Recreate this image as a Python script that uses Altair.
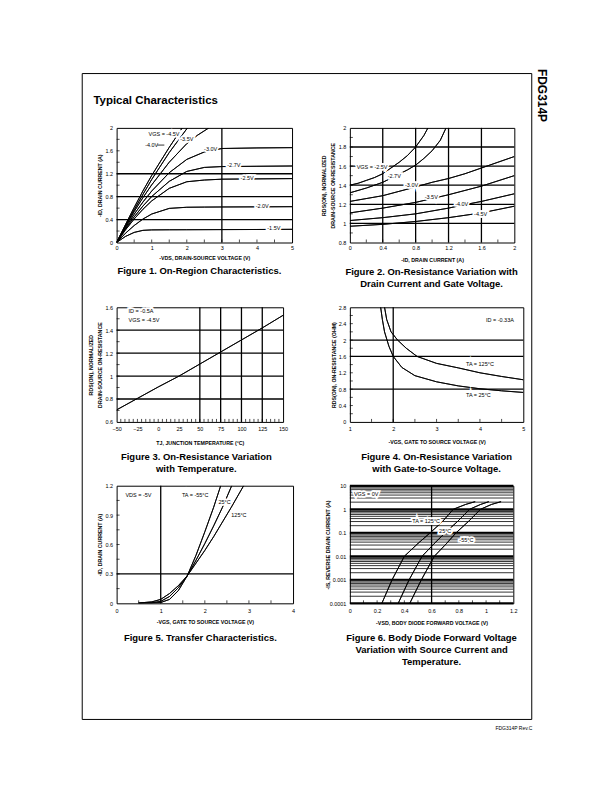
import altair as alt
import pandas as pd

FONT = "Liberation Sans"
CURVE_W = 0.9
GRID_W = 1.3
LAB_FS = 5.5

# ================= Figure 1 : On-region characteristics =================
f1_names = ["-1.5V", "-2.0V", "-2.5V", "-2.7V", "-3.0V", "-3.5V", "-4.0V", "-4.5V"]
f1_vds = [
    [0, 0.25, 0.5, 0.75, 1, 1.5, 2, 3, 4, 5],
    [0, 0.25, 0.5, 0.75, 1, 1.5, 2, 2.5, 3, 4, 5],
    [0, 0.25, 0.5, 0.75, 1, 1.5, 2, 2.5, 3, 4, 5],
    [0, 0.25, 0.5, 0.75, 1, 1.5, 2, 2.5, 3, 4, 5],
    [0, 0.25, 0.5, 0.75, 1, 1.5, 2, 2.5, 3, 4, 5],
    [0, 0.25, 0.5, 0.75, 1, 1.5, 2, 2.3, 2.63],
    [0, 0.25, 0.5, 0.75, 1, 1.5, 2.02],
    [0, 0.25, 0.5, 0.75, 1, 1.5, 1.87],
]
f1_id = [
    [0, 0.105, 0.176, 0.212, 0.220, 0.222, 0.223, 0.225, 0.227, 0.230],
    [0, 0.160, 0.296, 0.409, 0.497, 0.595, 0.615, 0.618, 0.620, 0.622, 0.625],
    [0, 0.218, 0.410, 0.580, 0.726, 0.945, 1.060, 1.090, 1.105, 1.110, 1.115],
    [0, 0.236, 0.447, 0.636, 0.802, 1.067, 1.240, 1.310, 1.325, 1.330, 1.335],
    [0, 0.257, 0.493, 0.706, 0.898, 1.218, 1.450, 1.580, 1.640, 1.650, 1.655],
    [0, 0.278, 0.539, 0.782, 1.006, 1.401, 1.725, 1.870, 2.0],
    [0, 0.290, 0.570, 0.840, 1.100, 1.570, 2.0],
    [0, 0.310, 0.610, 0.900, 1.170, 1.660, 2.0],
]
f1_lab_text = ["VGS = -4.5V", "-4.0V", "-3.5V", "-3.0V", "-2.7V", "-2.5V", "-2.0V", "-1.5V"]
f1_lab_x = [1.35, 1.0, 2.0, 2.68, 3.34, 3.72, 4.15, 4.48]
f1_lab_y = [1.89, 1.70, 1.80, 1.63, 1.35, 1.13, 0.63, 0.25]
f1_grid_x = [3]
f1_grid_y = [0.4, 0.8, 1.2]
f1_tick_x = [0.5, 1, 1.5, 2, 2.5, 3, 3.5, 4, 4.5]
f1_tick_y = [0.2, 0.4, 0.6, 0.8, 1.0, 1.2, 1.4, 1.6, 1.8]

# ================= Figure 2 : Rds(on) vs drain current =================
f2_names = ["-2.5V", "-2.7V", "-3.0V", "-3.5V", "-4.0V", "-4.5V"]
f2_id = [
    [0, 0.1, 0.2, 0.3, 0.4, 0.5, 0.6, 0.7, 0.8, 0.9, 0.95],
    [0, 0.2, 0.4, 0.54, 0.7, 0.8, 0.9, 1.0, 1.1, 1.17],
    [0, 0.4, 0.75, 1.0, 1.2, 1.4, 1.6, 1.8, 2.0],
    [0, 0.4, 0.8, 1.0, 1.2, 1.6, 2.0],
    [0, 0.4, 0.8, 1.2, 1.36, 1.6, 2.0],
    [0, 0.4, 0.8, 1.2, 1.6, 2.0],
]
f2_r = [
    [1.40, 1.42, 1.45, 1.48, 1.52, 1.58, 1.64, 1.71, 1.80, 1.92, 2.0],
    [1.32, 1.37, 1.43, 1.49, 1.56, 1.61, 1.68, 1.76, 1.87, 2.0],
    [1.23, 1.29, 1.37, 1.43, 1.47, 1.52, 1.58, 1.64, 1.70],
    [1.11, 1.16, 1.22, 1.26, 1.30, 1.39, 1.50],
    [1.03, 1.06, 1.10, 1.16, 1.19, 1.23, 1.31],
    [0.97, 0.99, 1.02, 1.06, 1.11, 1.18],
]
f2_lab_text = ["VGS = -2.5V", "-2.7V", "-3.0V", "-3.5V", "-4.0V", "-4.5V"]
f2_lab_x = [0.27, 0.54, 0.75, 0.99, 1.36, 1.59]
f2_lab_y = [1.59, 1.50, 1.40, 1.275, 1.20, 1.10]
f2_grid_x = [0.4, 0.8, 1.2, 1.6]
f2_grid_y = [1.0, 1.2, 1.4, 1.6, 1.8]
f2_tick_x = [0.2, 0.4, 0.6, 0.8, 1.0, 1.2, 1.4, 1.6, 1.8]
f2_tick_y = [0.9, 1.0, 1.1, 1.2, 1.3, 1.4, 1.5, 1.6, 1.7, 1.8, 1.9]

# ================= Figure 3 : Rds(on) vs temperature =================
f3_tj = [-50, -25, 0, 25, 50, 75, 100, 125, 150]
f3_r = [0.705, 0.805, 0.905, 1.0, 1.105, 1.21, 1.315, 1.42, 1.53]
f3_lab_text = ["ID = -0.5A", "VGS = -4.5V"]
f3_lab_x = [-35.6, -35.6]
f3_lab_y = [1.565, 1.49]
f3_grid_x = [50, 75, 100, 125]
f3_grid_y = [0.8, 1.0, 1.2, 1.4]
f3_tick_x = list(range(-45, 150, 5))
f3_tick_y = [0.7, 0.8, 0.9, 1.0, 1.1, 1.2, 1.3, 1.4, 1.5]

# ================= Figure 4 : Rds(on) vs gate voltage =================
f4_names = ["25C", "125C"]
f4_vgs = [
    [1.71, 1.75, 1.8, 1.9, 2.0, 2.2, 2.5, 3.0, 3.5, 4.0, 4.5, 5.0],
    [1.80, 1.85, 1.95, 2.1, 2.3, 2.55, 3.0, 3.5, 4.0, 4.5, 5.0],
]
f4_r = [
    [2.8, 2.5, 2.2, 1.85, 1.6, 1.33, 1.13, 0.98, 0.88, 0.81, 0.76, 0.72],
    [2.8, 2.5, 2.2, 2.0, 1.8, 1.6, 1.43, 1.32, 1.20, 1.11, 1.03],
]
f4_lab_text = ["ID = -0.33A", "TA = 125°C", "TA = 25°C"]
f4_lab_x = [4.14, 3.68, 3.68]
f4_lab_y = [2.48, 1.42, 0.66]
f4_grid_x = [2]
f4_grid_y = [0.8, 1.6, 2.0]
f4_tick_x = [1.5, 2, 2.5, 3, 3.5, 4, 4.5]
f4_tick_y = [0.2, 0.4, 0.6, 0.8, 1.0, 1.2, 1.4, 1.6, 1.8, 2.0, 2.2, 2.4, 2.6]

# ================= Figure 5 : Transfer characteristics =================
f5_names = ["-55C", "25C", "125C"]
f5_vgs = [
    [0.5, 0.8, 1.0, 1.2, 1.4, 1.6, 1.8, 2.0, 2.2, 2.36],
    [0.5, 0.8, 1.0, 1.2, 1.4, 1.6, 1.8, 2.0, 2.2, 2.4, 2.61],
    [0.5, 0.8, 1.0, 1.2, 1.4, 1.6, 1.8, 2.0, 2.2, 2.4, 2.6, 2.88],
]
f5_id = [
    [0.0, 0.002, 0.008, 0.04, 0.13, 0.28, 0.49, 0.73, 0.98, 1.2],
    [0.001, 0.006, 0.02, 0.07, 0.16, 0.28, 0.44, 0.61, 0.79, 0.98, 1.2],
    [0.003, 0.015, 0.04, 0.10, 0.18, 0.28, 0.41, 0.54, 0.68, 0.83, 0.98, 1.2],
]
f5_lab_text = ["VDS = -5V", "TA = -55°C", "25°C", "125°C"]
f5_lab_x = [0.2, 1.48, 2.31, 2.6]
f5_lab_y = [1.11, 1.11, 1.03, 0.90]
f5_grid_x = [1]
f5_grid_y = [0.3]
f5_tick_x = [0.5, 1, 1.5, 2, 2.5, 3, 3.5]
f5_tick_y = [0.15, 0.3, 0.45, 0.6, 0.75, 0.9, 1.05]

# ================= Figure 6 : Body diode forward voltage =================
f6_names = ["125C", "25C", "-55C"]
f6_vsd = [
    [0.235, 0.31, 0.40, 0.50, 0.59, 0.68, 0.76, 0.85, 0.92],
    [0.355, 0.435, 0.53, 0.62, 0.70, 0.79, 0.88, 0.96, 1.02],
    [0.44, 0.525, 0.62, 0.71, 0.78, 0.87, 0.96, 1.04, 1.11],
]
f6_is = [
    [1e-4, 1e-3, 1e-2, 0.035, 0.1, 0.3, 1.0, 1.6, 2.1],
    [1e-4, 1e-3, 1e-2, 0.035, 0.1, 0.3, 1.0, 1.6, 2.1],
    [1e-4, 1e-3, 1e-2, 0.035, 0.1, 0.3, 1.0, 1.6, 2.1],
]
f6_lab_text = ["VGS = 0V", "TA = 125°C", "25°C", "-55°C"]
f6_lab_x = [0.03, 0.56, 0.70, 0.855]
f6_lab_y = [4.3, 0.32, 0.113, 0.049]
f6_grid_x = [0.6]
f6_decades = [0.0001, 0.001, 0.01, 0.1, 1, 10]
f6_minor = [m * d for d in [0.0001, 0.001, 0.01, 0.1, 1] for m in range(2, 10)]
f6_tick_x = [0.1, 0.2, 0.3, 0.4, 0.5, 0.6, 0.7, 0.8, 0.9, 1.0, 1.1]

DUMMY = pd.DataFrame({"a": [0]})


def curves_df(names, xs, ys):
    rows = []
    for n, xl, yl in zip(names, xs, ys):
        for i, (a, b) in enumerate(zip(xl, yl)):
            rows.append({"s": n, "x": a, "y": b, "i": i})
    return pd.DataFrame(rows)


def labels_df(texts, xs, ys):
    return pd.DataFrame({"t": texts, "x": xs, "y": ys})


def ptext(text, x, y, size, weight="normal", align="center", angle=0, lh=None):
    kw = dict(text=text, font=FONT, fontSize=size, fontWeight=weight, align=align,
              baseline="middle", color="black", angle=angle)
    if lh is not None:
        kw["lineHeight"] = lh
    return alt.Chart(DUMMY).mark_text(**kw).encode(x=alt.value(x), y=alt.value(y))


def xaxis(values, fmt, title, w, title_y, pad):
    return alt.Axis(values=values, format=fmt, title=title, titleX=w / 2, titleY=title_y,
                    titleBaseline="middle", titleAlign="center", labelPadding=pad)


def yaxis(values, fmt, title, h, title_x, pad=4):
    return alt.Axis(values=values, format=fmt, title=title, titleX=title_x, titleY=h / 2,
                    titleAngle=-90, titleBaseline="middle", titleAlign="center",
                    labelPadding=pad)


def panel(w, h, xs, ys, xax, yax, cdf, gx, gy, tx, ty, lab_center=None, lab_left=None,
          pre=(), extras=(), gy_thick=None, gy_w=GRID_W):
    def X(f="x:Q"):
        return alt.X(f, scale=xs, axis=xax)

    def Y(f="y:Q"):
        return alt.Y(f, scale=ys, axis=yax)

    layers = [alt.Chart(cdf).mark_line(color="black", strokeWidth=CURVE_W, clip=True).encode(
        x=X(), y=Y(), detail="s:N", order="i:Q")]
    layers += list(pre)
    if gx:
        layers.append(alt.Chart(pd.DataFrame({"x": gx})).mark_rule(color="black", strokeWidth=GRID_W)
                      .encode(x=X()))
    if gy:
        layers.append(alt.Chart(pd.DataFrame({"y": gy})).mark_rule(color="black", strokeWidth=gy_w)
                      .encode(y=Y()))
    if gy_thick:
        layers.append(alt.Chart(pd.DataFrame({"y": gy_thick})).mark_rule(color="black", strokeWidth=2.0)
                      .encode(y=Y()))
    # curves drawn again on top of the grid
    layers.append(alt.Chart(cdf).mark_line(color="black", strokeWidth=CURVE_W, clip=True).encode(
        x=X(), y=Y(), detail="s:N", order="i:Q"))
    if tx:
        layers.append(alt.Chart(pd.DataFrame({"x": tx})).mark_rule(color="black", strokeWidth=0.7)
                      .encode(x=X(), y=alt.value(h), y2=alt.value(h - 3)))
    if ty:
        layers.append(alt.Chart(pd.DataFrame({"y": ty})).mark_rule(color="black", strokeWidth=0.7)
                      .encode(y=Y(), x=alt.value(0), x2=alt.value(3)))
    for df, al in ((lab_center, "center"), (lab_left, "left")):
        if df is None:
            continue
        base = alt.Chart(df).encode(x=X(), y=Y(), text="t:N")
        layers.append(base.mark_text(font=FONT, fontSize=LAB_FS, align=al, baseline="middle",
                                     color="white", stroke="white", strokeWidth=3.5))
        layers.append(base.mark_text(font=FONT, fontSize=LAB_FS, align=al, baseline="middle",
                                     color="black"))
    layers += list(extras)
    return alt.layer(*layers).properties(width=w, height=h,
                                         view=alt.ViewBackground(stroke="black", strokeWidth=1))


def spacer(w, h):
    return alt.Chart(DUMMY).mark_point(opacity=0).encode(
        x=alt.value(0), y=alt.value(0)).properties(
        width=w, height=h, view=alt.ViewBackground(stroke="transparent"))


# ---------- Figure 1 panel (origin at page 116,126.5) ----------
W1, H1 = 176, 115
xs1 = alt.Scale(domain=[0, 5], nice=False, zero=False)
ys1 = alt.Scale(domain=[0, 2], nice=False, zero=False)
xax1 = xaxis([0, 1, 2, 3, 4, 5], "d", "-VDS, DRAIN-SOURCE VOLTAGE (V)", W1, 15, 3.5)
yax1 = yaxis([0, 0.4, 0.8, 1.2, 1.6, 2], "~g", "-ID, DRAIN CURRENT (A)", H1, -17)
page_anchor = alt.Chart(DUMMY).mark_rect(fill="white", opacity=0).encode(
    x=alt.value(-116), x2=alt.value(496), y=alt.value(-126.5), y2=alt.value(665.5))
frame = alt.Chart(DUMMY).mark_rect(fill="transparent", stroke="black", strokeWidth=1).encode(
    x=alt.value(-34.5), x2=alt.value(416.5), y=alt.value(-54.5), y2=alt.value(593.5))
f1_leader = alt.Chart(pd.DataFrame({"x": [1.16], "x2": [1.36], "y": [1.70]})).mark_rule(
    color="black", strokeWidth=0.8).encode(
    x=alt.X("x:Q", scale=xs1, axis=xax1), x2="x2:Q", y=alt.Y("y:Q", scale=ys1, axis=yax1))
fig1 = panel(
    W1, H1, xs1, ys1, xax1, yax1,
    curves_df(f1_names, f1_vds, f1_id), f1_grid_x, f1_grid_y, f1_tick_x, f1_tick_y,
    lab_center=labels_df(f1_lab_text, f1_lab_x, f1_lab_y),
    pre=[page_anchor, frame],
    extras=[f1_leader,
            ptext("Typical Characteristics", -23.3, -26.5, 11.5, "bold", "left"),
            ptext("Figure 1. On-Region Characteristics.", 83, 143.5, 9.5, "bold")])

# ---------- Figure 2 panel (origin 349,126.5) ----------
W2, H2 = 165, 115
xs2 = alt.Scale(domain=[0, 2], nice=False, zero=False)
ys2 = alt.Scale(domain=[0.8, 2], nice=False, zero=False)
fig2 = panel(
    W2, H2, xs2, ys2,
    xaxis([0, 0.4, 0.8, 1.2, 1.6, 2], "~g", "-ID, DRAIN CURRENT (A)", W2, 17, 3.5),
    yaxis([0.8, 1, 1.2, 1.4, 1.6, 1.8, 2], "~g",
          ["RDS(ON), NORMALIZED", "DRAIN-SOURCE ON-RESISTANCE"], H2, -26),
    curves_df(f2_names, f2_id, f2_r), f2_grid_x, f2_grid_y, f2_tick_x, f2_tick_y,
    lab_center=labels_df(f2_lab_text, f2_lab_x, f2_lab_y),
    extras=[ptext(["Figure 2. On-Resistance Variation with", "Drain Current and Gate Voltage."],
                  82, 144.5, 9.5, "bold", lh=12),
            ptext("FDG314P", 193, -32.5, 12, "bold", angle=90)])

# ---------- Figure 3 panel (origin 123,306) ----------
W3, H3 = 167, 115
xs3 = alt.Scale(domain=[-50, 150], nice=False, zero=False)
ys3 = alt.Scale(domain=[0.6, 1.6], nice=False, zero=False)
fig3 = panel(
    W3, H3, xs3, ys3,
    xaxis(list(range(-50, 151, 25)), "d", "TJ, JUNCTION TEMPERATURE (°C)", W3, 20.5, 5),
    yaxis([0.6, 0.8, 1, 1.2, 1.4, 1.6], "~g",
          ["RDS(ON), NORMALIZED", "DRAIN-SOURCE ON-RESISTANCE"], H3, -26),
    curves_df(["r"], [f3_tj], [f3_r]), f3_grid_x, f3_grid_y, f3_tick_x, f3_tick_y,
    lab_left=labels_df(f3_lab_text, f3_lab_x, f3_lab_y),
    extras=[ptext(["Figure 3. On-Resistance Variation", "with Temperature."],
                  80, 150, 9.5, "bold", lh=12)])

# ---------- Figure 4 panel (origin 340,306) ----------
W4, H4 = 174, 115
xs4 = alt.Scale(domain=[1, 5], nice=False, zero=False)
ys4 = alt.Scale(domain=[0, 2.8], nice=False, zero=False)
fig4 = panel(
    W4, H4, xs4, ys4,
    xaxis([1, 2, 3, 4, 5], "d", "-VGS, GATE TO SOURCE VOLTAGE (V)", W4, 20, 5),
    yaxis([0, 0.4, 0.8, 1.2, 1.6, 2, 2.4, 2.8], "~g", "RDS(ON), ON-RESISTANCE (OHM)", H4, -16),
    curves_df(f4_names, f4_vgs, f4_r), f4_grid_x, f4_grid_y, f4_tick_x, f4_tick_y,
    lab_left=labels_df(f4_lab_text, f4_lab_x, f4_lab_y),
    extras=[ptext(["Figure 4. On-Resistance Variation", "with Gate-to-Source Voltage."],
                  87, 150, 9.5, "bold", lh=12)])

# ---------- Figure 5 panel (origin 116,485) ----------
W5, H5 = 177, 118
xs5 = alt.Scale(domain=[0, 4], nice=False, zero=False)
ys5 = alt.Scale(domain=[0, 1.2], nice=False, zero=False)
fig5 = panel(
    W5, H5, xs5, ys5,
    xaxis([0, 1, 2, 3, 4], "d", "-VGS, GATE TO SOURCE VOLTAGE (V)", W5, 18, 5),
    yaxis([0, 0.3, 0.6, 0.9, 1.2], "~g", "-ID, DRAIN CURRENT (A)", H5, -17),
    curves_df(f5_names, f5_vgs, f5_id), f5_grid_x, f5_grid_y, f5_tick_x, f5_tick_y,
    lab_left=labels_df(f5_lab_text, f5_lab_x, f5_lab_y),
    extras=[ptext("Figure 5. Transfer Characteristics.", 84, 153, 9.5, "bold")])

# ---------- Figure 6 panel (origin 349,485) ----------
W6, H6 = 164, 118
xs6 = alt.Scale(domain=[0, 1.2], nice=False, zero=False)
ys6 = alt.Scale(type="log", domain=[0.0001, 10], nice=False)
fig6 = panel(
    W6, H6, xs6, ys6,
    xaxis([0, 0.2, 0.4, 0.6, 0.8, 1, 1.2], "~g", "-VSD, BODY DIODE FORWARD VOLTAGE (V)", W6, 19.5, 5),
    yaxis(f6_decades, "~g", "-IS, REVERSE DRAIN CURRENT (A)", H6, -22),
    curves_df(f6_names, f6_vsd, f6_is), f6_grid_x, f6_minor, f6_tick_x, None,
    lab_left=labels_df(f6_lab_text[:1], f6_lab_x[:1], f6_lab_y[:1]),
    lab_center=labels_df(f6_lab_text[1:], f6_lab_x[1:], f6_lab_y[1:]),
    gy_thick=f6_decades, gy_w=0.8,
    extras=[ptext(["Figure 6. Body Diode Forward Voltage", "Variation with Source Current and",
                   "Temperature."], 82, 153, 9.5, "bold", lh=12),
            ptext("FDG314P  Rev.C", 183, 243, 5, "normal", "right")])

cells = [
    spacer(16, 115), fig1, spacer(57, 115), fig2,
    spacer(1, 64.5), spacer(1, 64.5), spacer(1, 64.5), spacer(1, 64.5),
    spacer(23, 115), fig3, spacer(50, 115), fig4,
    spacer(1, 64), spacer(1, 64), spacer(1, 64), spacer(1, 64),
    spacer(16, 118), fig5, spacer(56, 118), fig6,
]

chart = alt.concat(*cells, columns=4, spacing=0, bounds="flush", align="none").properties(
    padding=0, background="white"
).configure_view(stroke="transparent").configure_axis(
    grid=False, ticks=False, tickSize=0, domain=False,
    labelFont=FONT, labelFontSize=5.5, labelColor="black",
    labelFlush=False, labelOverlap=False,
    titleFont=FONT, titleFontSize=5.3, titleFontWeight="bold", titleColor="black",
    titleLineHeight=8.5,
)

chart.save("out.html", embed_options={"renderer": "svg", "actions": False})
